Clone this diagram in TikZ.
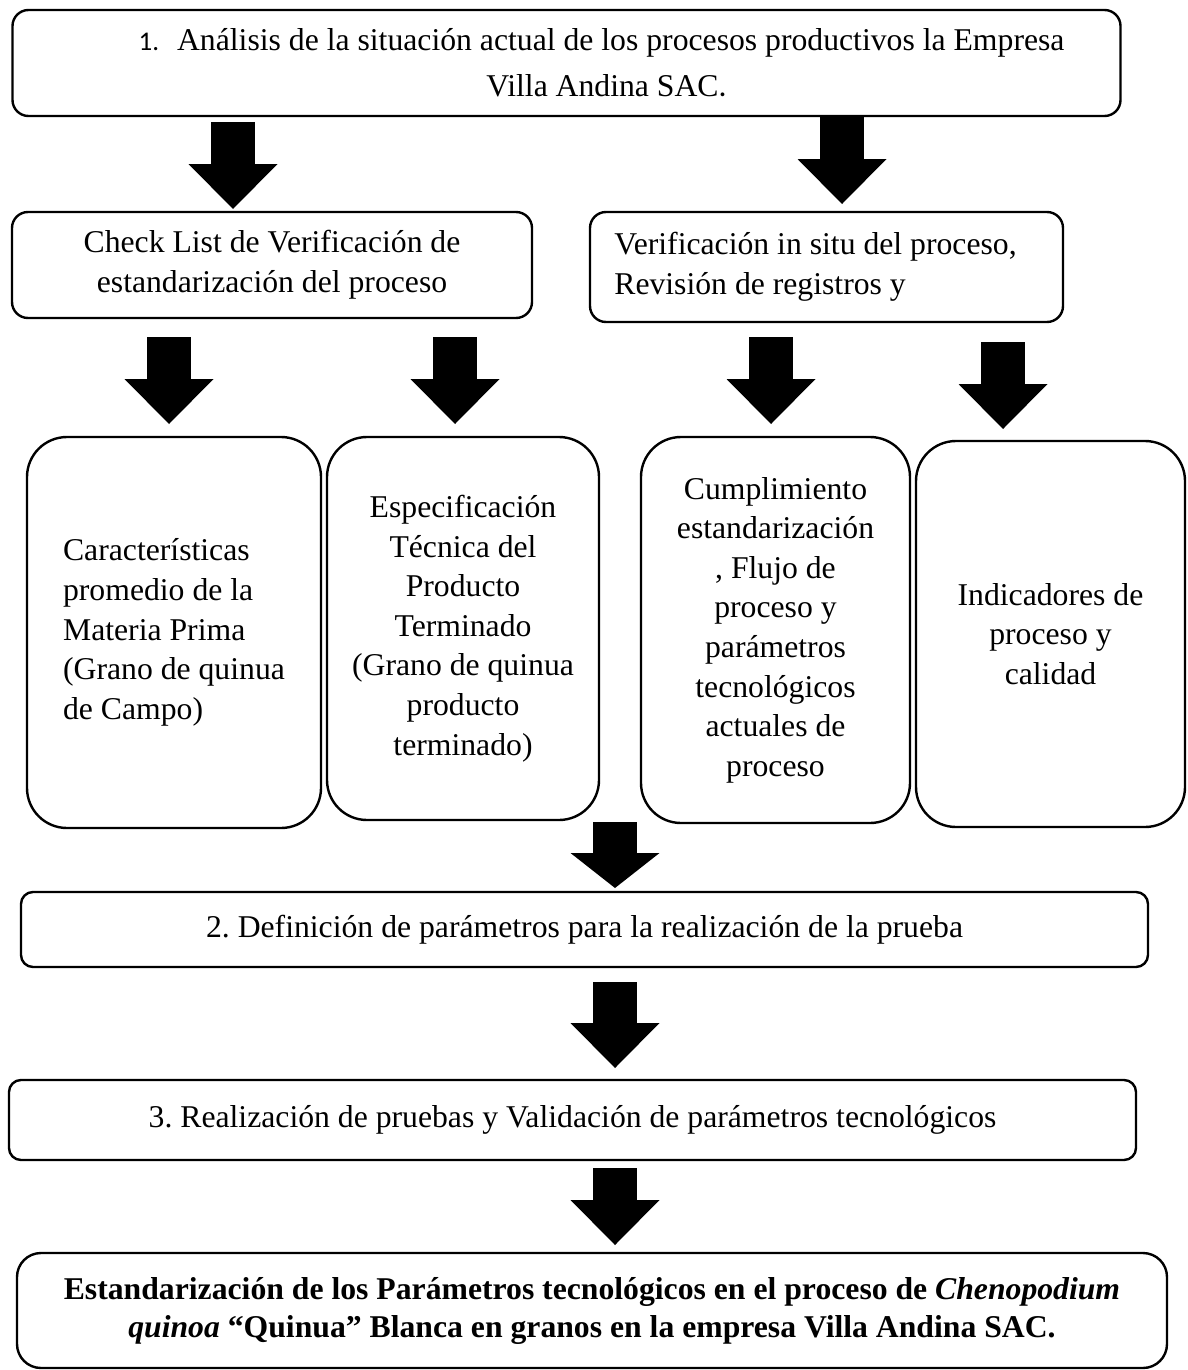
\documentclass[tikz,border=0pt]{standalone}
\usepackage{fontspec}
\setmainfont{Liberation Serif}
\newfontfamily\calib{Carlito}
\usetikzlibrary{arrows.meta}
\frenchspacing
\begin{document}
\begin{tikzpicture}[x=1pt,y=-1pt,
  box/.style={draw, line width=2.4pt, rounded corners=#1, inner sep=0pt, align=center,
    font=\frenchspacing\fontsize{31.7}{39.6}\selectfont},
  box/.default=15pt,
  blk/.style={line width=44pt, -{Triangle[width=89pt,length=#1,line width=0pt]}},
  blk/.default=45pt]
\useasboundingbox (0,0) rectangle (1188,1370);

% top box
\node[box=16pt, minimum width=1108pt, minimum height=106pt,
  font=\frenchspacing\fontsize{31.7}{46}\selectfont] (n1) at (566.5,63)
  {\hspace*{70pt}{\calib\fontsize{27}{27}\selectfont 1.}\hspace{18pt}Análisis de la situación actual de los procesos productivos la Empresa\\
   \hspace*{80pt}Villa Andina SAC{\calib .}};

% second row
\node[box=16pt, minimum width=520pt, minimum height=106pt] (cl) at (272,265)
  {Check List de Verificación de\\estandarización del proceso};
\node[box=16pt, align=left, minimum width=473pt, minimum height=110pt] (vf) at (826.5,267)
  {Verificación in situ del proceso,\hspace*{22pt}\\Revisión de registros y};

% tall boxes
\node[box=40pt, align=left, minimum width=294pt, minimum height=391pt] (b1) at (174,632.5)
  {Características\\promedio de la\\Materia Prima\\(Grano de quinua\\de Campo)};
\node[box=40pt, minimum width=272pt, minimum height=383pt] (b2) at (463,628.5)
  {Especificación\\Técnica del\\Producto\\Terminado\\(Grano de quinua\\producto\\terminado)};
\node[box=40pt, minimum width=269pt, minimum height=386pt] (b3) at (775.5,630)
  {Cumplimiento\\estandarización\\, Flujo de\\proceso y\\parámetros\\tecnológicos\\actuales de\\proceso};
\node[box=40pt, minimum width=269pt, minimum height=386pt] (b4) at (1050.5,634)
  {Indicadores de\\proceso y\\calidad};

% lower boxes
\node[box=12pt, minimum width=1127pt, minimum height=75pt] (p2) at (584.5,929.5)
  {2. Definición de parámetros para la realización de la prueba};
\node[box=12pt, minimum width=1127pt, minimum height=80pt] (p3) at (572.5,1120)
  {3. Realización de pruebas y Validación de parámetros tecnológicos};
\node[box=24pt, minimum width=1150pt, minimum height=115pt,
  font=\frenchspacing\bfseries\fontsize{31.7}{38}\selectfont] (fin) at (592,1310.5)
  {Estandarización de los Parámetros tecnológicos en el proceso de \textit{Chenopodium}\\
   \textit{quinoa} “Quinua” Blanca en granos en la empresa Villa Andina SAC.};

% block arrows
\coordinate (a1s) at (233,122);  \coordinate (a1e) at (233,209);
\coordinate (a2s) at (842,117);  \coordinate (a2e) at (842,204);
\coordinate (a3s) at (169,337);  \coordinate (a3e) at (169,424);
\coordinate (a4s) at (455,337);  \coordinate (a4e) at (455,424);
\coordinate (a5s) at (771,337);  \coordinate (a5e) at (771,424);
\coordinate (a6s) at (1003,342); \coordinate (a6e) at (1003,429);
\coordinate (a7s) at (615,822);  \coordinate (a7e) at (615,888);
\coordinate (a8s) at (615,982);  \coordinate (a8e) at (615,1068);
\coordinate (a9s) at (615,1168); \coordinate (a9e) at (615,1245);

\draw[blk] (a1s) -- (a1e);
\draw[blk] (a2s) -- (a2e);
\draw[blk] (a3s) -- (a3e);
\draw[blk] (a4s) -- (a4e);
\draw[blk] (a5s) -- (a5e);
\draw[blk] (a6s) -- (a6e);
\draw[blk=35pt] (a7s) -- (a7e);
\draw[blk] (a8s) -- (a8e);
\draw[blk] (a9s) -- (a9e);
\end{tikzpicture}
\end{document}
